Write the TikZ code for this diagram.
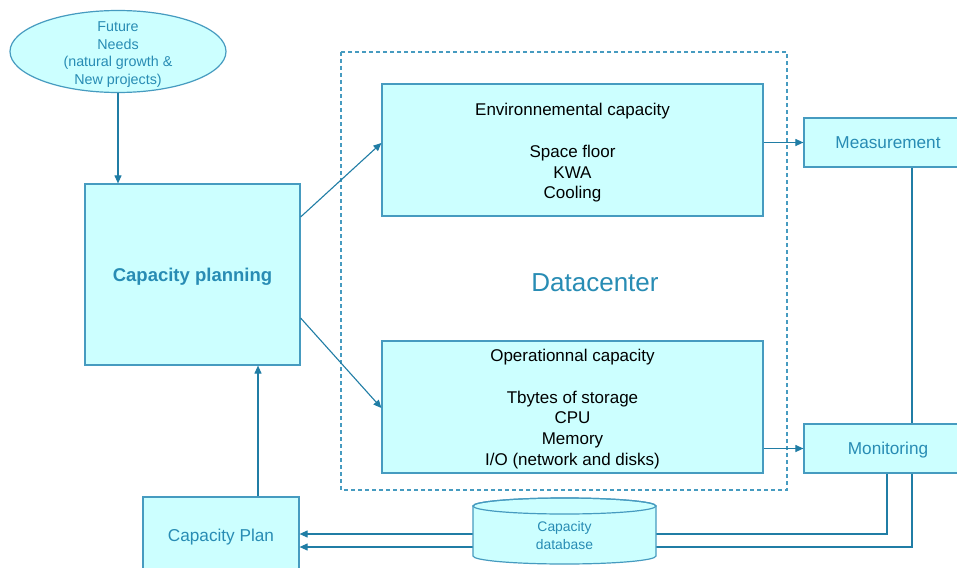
\documentclass[tikz,border=0pt]{standalone}
\usepackage{fontspec}
\setmainfont{Liberation Sans}
\usetikzlibrary{arrows.meta,shapes.geometric}
\definecolor{boxfill}{HTML}{CCFFFF}
\definecolor{boxline}{RGB}{70,155,192}
\definecolor{wire}{RGB}{32,125,165}
\definecolor{tealtext}{RGB}{40,140,180}
\tikzset{
  box/.style={draw=boxline, line width=1.2pt, fill=boxfill, rectangle, inner sep=0pt, align=center, text=tealtext},
  captext/.style={align=center, text=black, inner sep=0pt, font=\fontsize{17}{20.8}\selectfont},
  label17/.style={align=center, text=tealtext, inner sep=0pt, font=\fontsize{17.2}{20}\selectfont},
  arr/.style={draw=wire, line width=1.1pt, -{Triangle[length=8pt,width=7pt]}},
  wireline/.style={draw=wire, line width=1.1pt},
}
\begin{document}
\begin{tikzpicture}[x=1pt,y=-1pt]
\clip (0,0) rectangle (957,567);
\fill[white] (0,0) rectangle (957,567);

% datacenter frame
\draw[draw=boxline, line width=1.1pt, dash pattern=on 4pt off 3pt] (341,52) rectangle (787,490);
\node[text=tealtext, font=\fontsize{26}{30}\selectfont] (dc) at (595,283) {Datacenter};

% future needs
\node[ellipse, draw=boxline, line width=1.2pt, fill=boxfill, minimum width=216pt, minimum height=82pt, inner sep=0pt] (fn) at (118,51.5) {};
\node[align=center, text=tealtext, inner sep=0pt, font=\fontsize{14.3}{17.6}\selectfont] (fntext) at ([yshift=-3pt]fn.center)
      {Future\\Needs\\(natural growth \&\\New projects)};

% planning boxes
\node[box, minimum width=215pt, minimum height=181pt] (cp) at (192.5,274.5) {};
\node[label17, font=\bfseries\fontsize{18.5}{22}\selectfont] (cptext) at ([yshift=-2.5pt]cp.center) {Capacity planning};
\node[box, minimum width=156pt, minimum height=80pt] (plan) at (221,537) {};
\node[label17] (plantext) at ([yshift=-0.5pt]plan.center) {Capacity Plan};

% datacenter capacities
\node[box, minimum width=381pt, minimum height=132pt] (env) at (572.5,150) {};
\node[captext] (envtext) at ([yshift=-3pt]env.center)
      {Environnemental capacity\\[20.8pt]Space floor\\KWA\\Cooling};
\node[box, minimum width=381pt, minimum height=132pt] (op) at (572.5,407) {};
\node[captext] (optext) at ([yshift=-2pt]op.center)
      {Operationnal capacity\\[21pt]Tbytes of storage\\CPU\\Memory\\I/O (network and disks)};

% measurement and monitoring
\node[box, minimum width=168pt, minimum height=49pt] (meas) at (888,142.5) {};
\node[label17] (meastext) at (meas.center) {Measurement};
\node[box, minimum width=168pt, minimum height=49pt] (mon) at (888,448.5) {};
\node[label17] (montext) at ([yshift=-1.5pt]mon.center) {Monitoring};

% connectors
\draw[arr] (fn.south) -- (fn.south |- cp.north);
\draw[arr] ([yshift=57.5pt]cp.east) -- ([yshift=7pt]env.west);
\draw[arr] ([yshift=-43.5pt]cp.east) -- ([yshift=-1pt]op.west);
\draw[arr] (meas.west -| env.east) -- (meas.west);
\draw[arr] (mon.west -| op.east) -- (mon.west);
\draw[arr] ([xshift=37pt]plan.north) -- ([xshift=37pt]plan.north |- cp.south);
\draw[wireline] ([xshift=24pt]meas.south) -- ([xshift=24pt]mon.north);
\draw[arr] ([xshift=24pt]mon.south) |- ([yshift=-10pt]plan.east);
\draw[arr] ([xshift=-1pt]mon.south) |- ([yshift=3pt]plan.east);

% capacity database cylinder
\filldraw[fill=boxfill, draw=boxline, line width=1.2pt]
  (473,506) -- (473,556) arc[start angle=180, end angle=360, x radius=91.5pt, y radius=8pt]
  -- (656,506) arc[start angle=0, end angle=180, x radius=91.5pt, y radius=8pt] -- cycle;
\draw[boxline, line width=1.2pt] (564.5,506) ellipse[x radius=91.5pt, y radius=8pt];
\node[align=center, text=tealtext, font=\fontsize{13.9}{18}\selectfont] (db) at (564.5,535.5) {Capacity\\database};
\end{tikzpicture}
\end{document}
